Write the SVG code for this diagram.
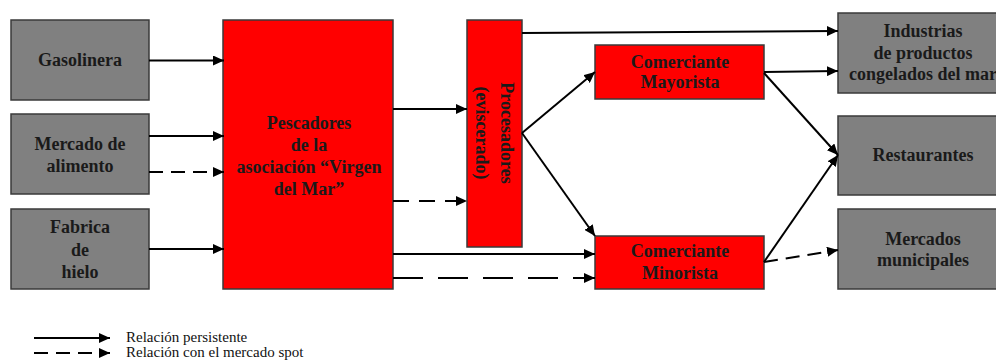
<svg xmlns="http://www.w3.org/2000/svg" width="996" height="363" viewBox="0 0 996 363">
<style>
.g{fill:#808080;stroke:#3a3a3a;stroke-width:1.5}
.r{fill:#ff0000;stroke:#3a3a3a;stroke-width:1.5}
.t{font-family:"Liberation Serif","Times New Roman",serif;font-weight:bold;font-size:18px;fill:#1a1a1a;text-anchor:middle}
.lg{font-family:"Liberation Serif","Times New Roman",serif;font-size:15px;fill:#111}
.c{fill:none;stroke:#000;stroke-width:2;marker-end:url(#ah)}
</style>
<defs>
<marker id="ah" markerUnits="userSpaceOnUse" markerWidth="12" markerHeight="10" refX="11" refY="5" orient="auto">
<path d="M0,0 L11,5 L0,10 Z" fill="#000"/>
</marker>
</defs>
<rect width="996" height="363" fill="#fff"/>
<g id="gasolinera"><rect class="g" x="11" y="20" width="138" height="80"/><text class="t" x="80" y="66">Gasolinera</text></g>
<g id="mercado-alimento"><rect class="g" x="11" y="114" width="138" height="80"/><text class="t" x="80" y="150">Mercado de</text><text class="t" x="80" y="172">alimento</text></g>
<g id="fabrica"><rect class="g" x="11" y="209" width="138" height="80"/><text class="t" x="80" y="233">Fabrica</text><text class="t" x="80" y="256">de</text><text class="t" x="80" y="278">hielo</text></g>
<g id="pescadores"><rect class="r" x="223" y="20" width="170" height="269"/><text class="t" x="309" y="129">Pescadores</text><text class="t" x="309" y="151">de la</text><text class="t" x="309" y="173">asociación “Virgen</text><text class="t" x="309" y="195">del Mar”</text></g>
<g id="procesadores"><rect class="r" x="467" y="20" width="55" height="227"/><g transform="translate(494.5,133) rotate(90)"><text class="t" x="0" y="-6.5">Procesadores</text><text class="t" x="0" y="18.5">(eviscerado)</text></g></g>
<g id="mayorista"><rect class="r" x="595" y="45" width="169" height="54"/><text class="t" x="680" y="67.5">Comerciante</text><text class="t" x="680" y="88">Mayorista</text></g>
<g id="minorista"><rect class="r" x="595" y="236" width="169" height="53"/><text class="t" x="680" y="257">Comerciante</text><text class="t" x="680" y="279">Minorista</text></g>
<g id="industrias"><rect class="g" x="838" y="13" width="172" height="80"/><text class="t" x="923" y="37">Industrias</text><text class="t" x="923" y="59">de productos</text><text class="t" x="923" y="80">congelados del mar</text></g>
<g id="restaurantes"><rect class="g" x="838" y="116" width="172" height="79"/><text class="t" x="923" y="161">Restaurantes</text></g>
<g id="mercados-municipales"><rect class="g" x="838" y="209" width="172" height="80"/><text class="t" x="923" y="245">Mercados</text><text class="t" x="923" y="266">municipales</text></g>
<g id="connectors">
<line class="c" x1="149" y1="60.5" x2="224" y2="60.5"/>
<line class="c" x1="149" y1="136" x2="224" y2="136"/>
<line class="c" x1="149" y1="172" x2="224" y2="172" stroke-dasharray="14 8"/>
<line class="c" x1="149" y1="249" x2="224" y2="249"/>
<line class="c" x1="393" y1="109" x2="467" y2="109"/>
<line class="c" x1="393" y1="201" x2="467" y2="201" stroke-dasharray="16 10"/>
<line class="c" x1="393" y1="254" x2="595" y2="254"/>
<line class="c" x1="393" y1="278" x2="595" y2="278" stroke-dasharray="30 15"/>
<line class="c" x1="522" y1="33" x2="838" y2="31"/>
<line class="c" x1="522" y1="133" x2="595" y2="72"/>
<line class="c" x1="522" y1="133" x2="595" y2="236"/>
<line class="c" x1="764" y1="72" x2="838" y2="71"/>
<line class="c" x1="764" y1="73" x2="838" y2="155"/>
<line class="c" x1="764" y1="262" x2="838" y2="155"/>
<line class="c" x1="764" y1="262" x2="838" y2="250" stroke-dasharray="14 8"/>
</g>
<g id="legend">
<line class="c" x1="34" y1="338" x2="110" y2="338"/>
<line class="c" x1="34" y1="353" x2="110" y2="353" stroke-dasharray="14 8"/>
<text class="lg" x="126" y="342">Relación persistente</text>
<text class="lg" x="126" y="357">Relación con el mercado spot</text>
</g>
</svg>
